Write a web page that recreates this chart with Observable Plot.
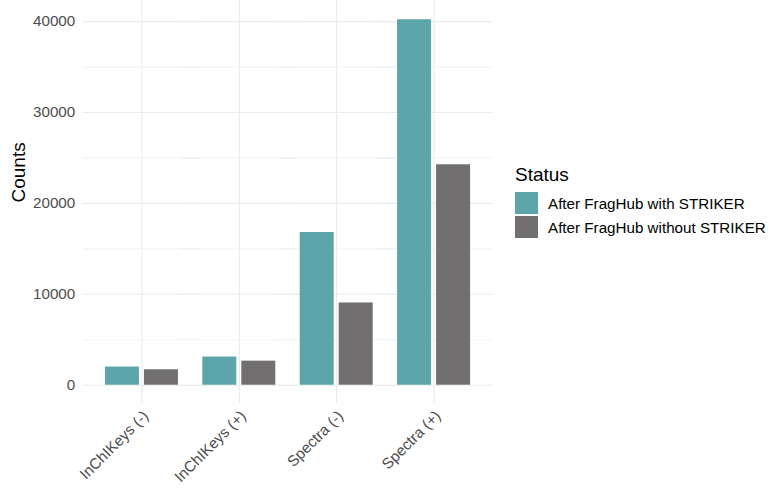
<!DOCTYPE html>
<html>
<head>
<meta charset="utf-8">
<script src="https://cdn.jsdelivr.net/npm/d3@7"></script>
<script src="https://cdn.jsdelivr.net/npm/@observablehq/plot@0.6"></script>
<style>
  html, body { margin: 0; padding: 0; background: #ffffff; }
  #wrap { position: relative; width: 778px; height: 488px; font-family: "Liberation Sans", Arial, sans-serif; }
  #legend { position: absolute; left: 515px; top: 164px; color: #000; }
  #legend .title { font-size: 19px; line-height: 22px; margin-bottom: 5px; }
  #legend .row { display: flex; align-items: center; height: 24px; }
  #legend .sw { width: 23px; height: 22px; margin-right: 10px; }
  #legend .lab { font-size: 15.2px; color: #000; }
</style>
</head>
<body>
<div id="wrap"></div>
<script>
const categories = ["InChIKeys (-)", "InChIKeys (+)", "Spectra (-)", "Spectra (+)"];
const statuses = ["After FragHub with STRIKER", "After FragHub without STRIKER"];
const withStriker = [2000, 3100, 16800, 40200];
const withoutStriker = [1700, 2650, 9050, 24250];
const colors = ["#5ba5ab", "#716f6f"];
const majorTicks = [0, 10000, 20000, 30000, 40000];
const minorTicks = [5000, 15000, 25000, 35000];
const yTitle = "Counts";

const data = [];
categories.forEach((c, i) => {
  data.push({category: c, status: statuses[0], value: withStriker[i]});
  data.push({category: c, status: statuses[1], value: withoutStriker[i]});
});
const maxV = d3.max(data, d => d.value);
const pad = maxV * 0.05;

const chart = Plot.plot({
  width: 778,
  height: 488,
  marginLeft: 83,
  marginRight: 286,
  marginTop: 1,
  marginBottom: 85,
  style: {fontFamily: "'Liberation Sans', Arial, sans-serif", background: "transparent"},
  fx: {domain: categories, paddingInner: 0, paddingOuter: 0.1, round: false, label: null},
  x: {domain: statuses, paddingInner: 0.128, paddingOuter: 0.3125, round: false, axis: null},
  y: {domain: [-pad, maxV + pad], label: null},
  color: {domain: statuses, range: colors},
  marks: [
    Plot.ruleY(minorTicks, {stroke: "#ebebeb", strokeWidth: 0.6, inset: -10}),
    Plot.ruleY(majorTicks, {stroke: "#ebebeb", strokeWidth: 1.1, inset: -10}),
    Plot.gridFx({stroke: "#ebebeb", strokeOpacity: 1, strokeWidth: 1.1, insetTop: -1}),
    Plot.barY(data, {fx: "category", x: "status", y: "value", fill: "status"}),
    Plot.axisY({ticks: majorTicks, tickSize: 0, tickPadding: 18, tickFormat: d => String(d),
      fontSize: 15.2, fill: "#4d4d4d", label: null}),
    Plot.axisFx({anchor: "bottom", tickSize: 0, tickRotate: -45, tickPadding: 4, dx: 4, dy: 6, fontSize: 15.2, fill: "#4d4d4d", label: null}),
    Plot.text([yTitle], {facet: "super", frameAnchor: "left", text: d => d, rotate: -90, dx: -74, fontSize: 19, fill: "#000"})
  ]
});
document.getElementById("wrap").appendChild(chart);

const legend = document.createElement("div");
legend.id = "legend";
let html = '<div class="title">Status</div>';
statuses.forEach((s, i) => {
  html += `<div class="row"><div class="sw" style="background:${colors[i]}"></div><div class="lab">${s}</div></div>`;
});
legend.innerHTML = html;
document.getElementById("wrap").appendChild(legend);
</script>
</body>
</html>
